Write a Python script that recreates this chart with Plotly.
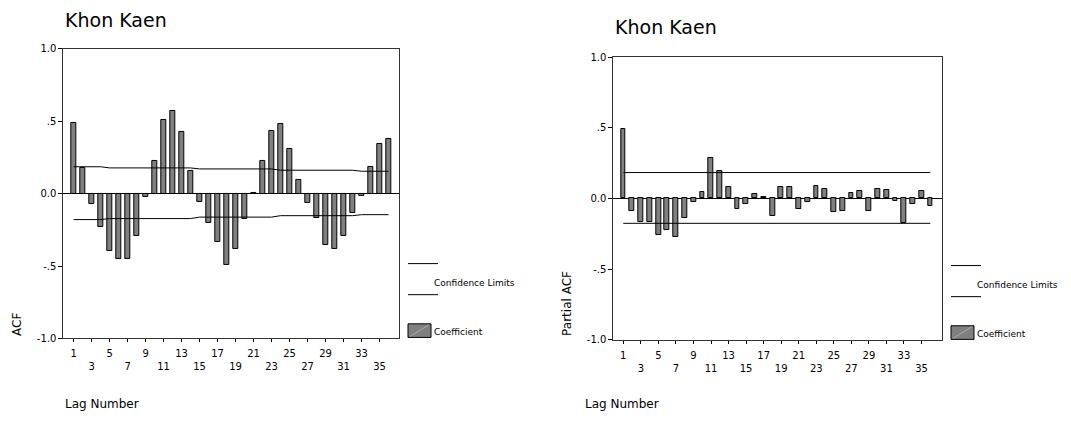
import plotly.graph_objects as go

lags = list(range(1, 37))
acf = [0.492, 0.177, -0.069, -0.233, -0.394, -0.450, -0.450, -0.289, -0.025, 0.224,
       0.510, 0.570, 0.425, 0.154, -0.056, -0.201, -0.333, -0.490, -0.380, -0.172,
       0.005, 0.224, 0.432, 0.479, 0.309, 0.092, -0.065, -0.166, -0.356, -0.380,
       -0.295, -0.134, -0.016, 0.183, 0.347, 0.378]
acf_upper = [0.186] * 4 + [0.178] * 10 + [0.171] * 9 + [0.162] * 9 + [0.155] * 4
acf_lower = [-0.179] * 4 + [-0.172] * 10 + [-0.162] * 9 + [-0.152] * 9 + [-0.145] * 4
pacf = [0.493, -0.089, -0.167, -0.167, -0.258, -0.226, -0.272, -0.142, -0.027, 0.046,
        0.285, 0.192, 0.078, -0.073, -0.041, 0.030, 0.007, -0.126, 0.084, 0.084,
        -0.073, -0.027, 0.091, 0.068, -0.096, -0.087, 0.039, 0.053, -0.087, 0.068,
        0.059, -0.018, -0.174, -0.041, 0.050, -0.057]
pacf_upper = [0.183] * 36
pacf_lower = [-0.176] * 36

tick_lags = list(range(1, 37, 2))
tick_text = [str(v) if i % 2 == 0 else "<br>" + str(v) for i, v in enumerate(tick_lags)]
ytick_vals = [-1.0, -0.5, 0.0, 0.5, 1.0]
ytick_text = ["-1.0", "-.5", "0.0", ".5", "1.0"]

FONT = "DejaVu Sans"
BAR_FILL = "#808080"

fig = go.Figure()

for xa, ya, vals, up, lo in [("x", "y", acf, acf_upper, acf_lower),
                             ("x2", "y2", pacf, pacf_upper, pacf_lower)]:
    fig.add_trace(go.Bar(x=lags, y=vals, width=0.55, xaxis=xa, yaxis=ya,
                         marker=dict(color=BAR_FILL, line=dict(color="black", width=1)),
                         showlegend=False))
    fig.add_trace(go.Scatter(x=lags, y=up, mode="lines", xaxis=xa, yaxis=ya,
                             line=dict(color="black", width=1), showlegend=False))
    fig.add_trace(go.Scatter(x=lags, y=lo, mode="lines", xaxis=xa, yaxis=ya,
                             line=dict(color="black", width=1), showlegend=False))

# page body has an 8px margin; figure sized to fill the rest of the window
OFF = 8
W, H = 1071 - OFF, 425 - OFF

def px_x(p):
    return (p - OFF) / W

def px_y(p):
    return 1 - (p - OFF) / H

xcommon = dict(tickmode="array", tickvals=tick_lags, ticktext=tick_text, ticks="outside",
               ticklen=3, tickcolor="black", showline=True, linecolor="#333", mirror=True,
               showgrid=False, zeroline=False, tickfont=dict(family=FONT, size=10, color="black"),
               fixedrange=True, tickangle=0, ticklabelstandoff=3)
ycommon = dict(range=[-1, 1], tickmode="array", tickvals=ytick_vals, ticktext=ytick_text,
               ticks="outside", ticklen=4, tickcolor="black", showline=True, linecolor="#333",
               mirror=True, showgrid=False, zeroline=True, zerolinecolor="black",
               zerolinewidth=1, tickfont=dict(family=FONT, size=10, color="black"))

fig.update_layout(
    width=W, height=H, margin=dict(l=0, r=0, t=0, b=0),
    paper_bgcolor="white", plot_bgcolor="white", bargap=0,
    font=dict(family=FONT, color="black"),
    xaxis=dict(domain=[px_x(63.3), px_x(399.3)], range=[-0.15, 37.2], anchor="y", **xcommon),
    yaxis=dict(domain=[px_y(342), px_y(44)], anchor="x", **ycommon),
    xaxis2=dict(domain=[px_x(613.3), px_x(941.7)], range=[-0.14, 37.3], anchor="y2", **xcommon),
    yaxis2=dict(domain=[px_y(343.5), px_y(52.3)], anchor="x2", **ycommon),
)

annots = []
shapes = []

def add_panel_text(title_x, title_y, ytitle, ytitle_x, bottom_y, lag_x, leg_x, leg_y0):
    annots.append(dict(text="Khon Kaen", x=px_x(title_x), y=px_y(title_y), xref="paper",
                       yref="paper", xanchor="left", yanchor="middle", showarrow=False,
                       font=dict(size=19, family=FONT)))
    annots.append(dict(text=ytitle, x=px_x(ytitle_x), y=px_y(bottom_y), xref="paper",
                       yref="paper", xanchor="center", yanchor="bottom", textangle=-90,
                       showarrow=False, font=dict(size=12, family=FONT)))
    annots.append(dict(text="Lag Number", x=px_x(lag_x), y=px_y(410), xref="paper",
                       yref="paper", xanchor="left", yanchor="middle", showarrow=False,
                       font=dict(size=12, family=FONT)))
    # legend
    for ly in (leg_y0, leg_y0 + 32):
        shapes.append(dict(type="line", xref="paper", yref="paper", x0=px_x(leg_x),
                           x1=px_x(leg_x + 30), y0=px_y(ly), y1=px_y(ly),
                           line=dict(color="black", width=1)))
    annots.append(dict(text="Confidence Limits", x=px_x(leg_x + 24), y=px_y(leg_y0 + 20),
                       xref="paper", yref="paper", xanchor="left", yanchor="middle",
                       showarrow=False, font=dict(size=9, family=FONT)))
    shapes.append(dict(type="rect", xref="paper", yref="paper", x0=px_x(leg_x),
                       x1=px_x(leg_x + 23), y0=px_y(leg_y0 + 62), y1=px_y(leg_y0 + 76),
                       fillcolor=BAR_FILL, line=dict(color="black", width=1)))
    shapes.append(dict(type="line", xref="paper", yref="paper", x0=px_x(leg_x + 2),
                       x1=px_x(leg_x + 21), y0=px_y(leg_y0 + 75), y1=px_y(leg_y0 + 63),
                       line=dict(color="#aaaaaa", width=1)))
    annots.append(dict(text="Coefficient", x=px_x(leg_x + 24), y=px_y(leg_y0 + 70),
                       xref="paper", yref="paper", xanchor="left", yanchor="middle",
                       showarrow=False, font=dict(size=9, family=FONT)))

add_panel_text(63, 14, "ACF", 17, 342, 63, 408, 265)
add_panel_text(613, 21, "Partial ACF", 567, 342, 583, 951, 267)

fig.update_layout(annotations=annots, shapes=shapes)
fig.write_html("out.html")
